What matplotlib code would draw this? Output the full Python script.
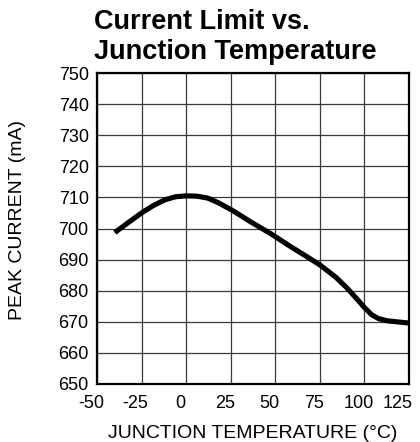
import matplotlib.pyplot as plt
from matplotlib.transforms import ScaledTranslation

# Data
temp_c = [-40, -32, -24, -18, -12, -6, 0, 6, 12, 18, 26, 36, 47, 58, 67, 75,
          84, 90, 96, 100, 104, 108, 113, 118, 125]
peak_ma = [698.7, 702.1, 705.4, 707.5, 709.2, 710.2, 710.5, 710.4, 709.8, 708.3,
           705.8, 702.2, 698.5, 694.4, 691.2, 688.3, 684.3, 681.0, 677.2, 674.6,
           672.3, 671.0, 670.3, 670.0, 669.6]

x_ticks = [-50, -25, 0, 25, 50, 75, 100, 125]
y_ticks = list(range(650, 751, 10))

plt.rcParams["font.family"] = ["Liberation Sans", "DejaVu Sans"]
plt.rcParams["axes.unicode_minus"] = False

W, H = 420, 442
fig = plt.figure(figsize=(W / 100, H / 100), dpi=100)
ax = fig.add_axes([97 / W, 1 - 384 / H, 312 / W, 311 / H])

ax.plot(temp_c, peak_ma, color="black", linewidth=3.7,
        solid_capstyle="butt", solid_joinstyle="round")

ax.set_xlim(-50, 125)
ax.set_ylim(650, 750)
ax.set_xticks(x_ticks)
ax.set_yticks(y_ticks)
ax.grid(True, color="#3a3a3a", linewidth=0.9)
ax.tick_params(length=0, labelsize=13)
ax.tick_params(axis="y", pad=6)
ax.tick_params(axis="x", pad=8)
for s in ax.spines.values():
    s.set_linewidth(1.6)

# the x tick labels sit a little left of their grid lines in the original
for i, lab in enumerate(ax.get_xticklabels()):
    dx = -11 if i == len(x_ticks) - 1 else -6
    lab.set_transform(lab.get_transform() + ScaledTranslation(dx / 100, 0, fig.dpi_scale_trans))

ax.set_xlabel("JUNCTION TEMPERATURE (°C)", fontsize=14)
ax.xaxis.label.set_verticalalignment("baseline")
ax.xaxis.set_label_coords((252.5 - 97) / 312, (384 - 438) / 311)

ax.set_ylabel("PEAK CURRENT (mA)", fontsize=14)
ax.yaxis.label.set_verticalalignment("center")
ax.yaxis.set_label_coords((18 - 97) / 312, (384 - 220.5) / 311)

fig.text(94 / W, 1 - 29 / H, "Current Limit vs.", fontsize=19.5,
         fontweight="bold", ha="left", va="baseline")
fig.text(94 / W, 1 - 59 / H, "Junction Temperature", fontsize=19.5,
         fontweight="bold", ha="left", va="baseline")

fig.savefig("out.png", dpi=100)
